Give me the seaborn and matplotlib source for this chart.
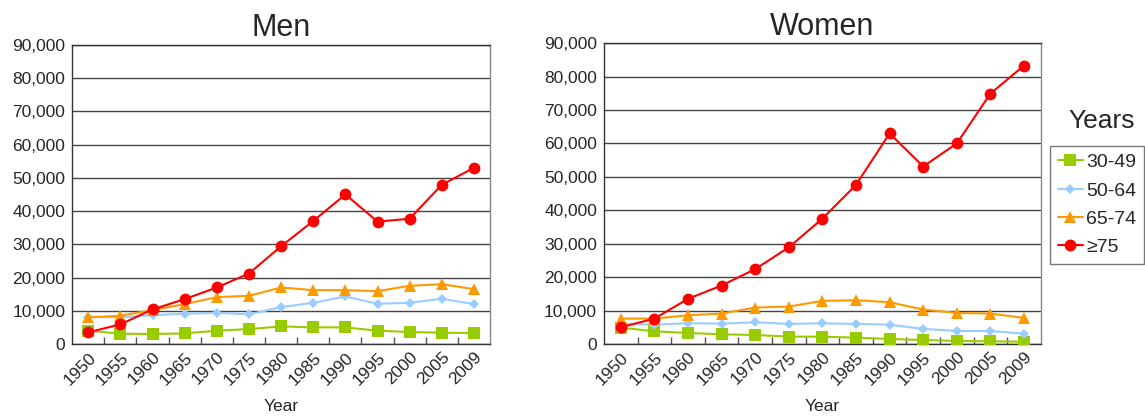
import numpy as np
import pandas as pd
import matplotlib
matplotlib.use("Agg")
import matplotlib.pyplot as plt
import seaborn as sns
from matplotlib.ticker import FuncFormatter, FixedLocator

years = ["1950", "1955", "1960", "1965", "1970", "1975", "1980", "1985", "1990", "1995", "2000", "2005", "2009"]
groups = ["30-49", "50-64", "65-74", "≥75"]

men_30_49 = [4000, 3100, 3000, 3200, 4000, 4500, 5300, 5000, 5000, 4000, 3600, 3400, 3300]
men_50_64 = [8200, 8000, 8700, 9100, 9400, 8900, 11100, 12400, 14300, 12100, 12400, 13600, 12000]
men_65_74 = [8000, 8500, 10200, 12000, 14100, 14500, 17000, 16200, 16200, 15900, 17500, 18000, 16500]
men_75 = [3500, 5900, 10400, 13500, 17000, 21200, 29400, 37000, 45000, 36800, 37700, 47900, 53000]

women_30_49 = [4900, 3800, 3300, 2900, 2700, 2200, 2200, 1900, 1500, 1200, 900, 800, 700]
women_50_64 = [6000, 5800, 6200, 6100, 6500, 6000, 6200, 6000, 5800, 4500, 3900, 3900, 3100]
women_65_74 = [7600, 7600, 8600, 9100, 10900, 11200, 12900, 13100, 12500, 10300, 9300, 9100, 7800]
women_75 = [5000, 7600, 13500, 17500, 22400, 28900, 37500, 47600, 63000, 53100, 60000, 74900, 83300]

colors = {"30-49": "#99cc00", "50-64": "#99ccff", "65-74": "#ff9900", "≥75": "#ff0000"}
markers = {"30-49": "s", "50-64": "D", "65-74": "^", "≥75": "o"}
msize = {"30-49": 8.5, "50-64": 5.5, "65-74": 8, "≥75": 8.5}


def long_df(series):
    rows = []
    for g, vals in zip(groups, series):
        for i, v in enumerate(vals):
            rows.append({"pos": i, "Year": years[i], "group": g, "value": v})
    return pd.DataFrame(rows)


men_df = long_df([men_30_49, men_50_64, men_65_74, men_75])
women_df = long_df([women_30_49, women_50_64, women_65_74, women_75])

sns.set_theme(style="white")
plt.rcParams["font.family"] = ["Liberation Sans", "DejaVu Sans"]

fig = plt.figure(figsize=(11.45, 4.19), dpi=100)
ax1 = fig.add_axes([0.063, 0.179, 0.365, 0.714])
ax2 = fig.add_axes([0.5275, 0.179, 0.3815, 0.718])

for ax, df, title in [(ax1, men_df, "Men"), (ax2, women_df, "Women")]:
    for g in groups:
        sub = df[df["group"] == g]
        sns.lineplot(data=sub, x="pos", y="value", ax=ax, color=colors[g],
                     marker=markers[g], markersize=msize[g], markeredgewidth=0,
                     linewidth=1.5, label=g, legend=False, zorder=3 + groups.index(g))
    ax.set_xlim(-0.5, 12.5)
    ax.set_ylim(0, 90000)
    ax.set_yticks(np.arange(0, 90001, 10000))
    ax.yaxis.set_major_formatter(FuncFormatter(lambda v, p: f"{int(v):,}"))
    ax.grid(axis="y", color="#444444", linewidth=1.0)
    ax.grid(axis="x", visible=False)
    ax.set_axisbelow(True)
    ax.set_xticks(range(len(years)))
    ax.set_xticklabels(years, rotation=45, ha="right", rotation_mode="anchor", fontsize=12.5)
    ax.tick_params(axis="x", which="major", length=0, pad=4)
    ax.xaxis.set_minor_locator(FixedLocator(np.arange(0.5, 12, 1)))
    ax.tick_params(axis="x", which="minor", direction="in", length=5, width=1, color="#555555", bottom=True)
    ax.tick_params(axis="y", labelsize=12.5, length=0, pad=5)
    ax.set_xlabel("Year", fontsize=12.5, labelpad=8)
    ax.set_ylabel("")
    ax.set_title(title, fontsize=22, pad=6)
    for s in ax.spines.values():
        s.set_color("#333333")
        s.set_linewidth(1.0)
    ax.spines["right"].set_color("#888888")

handles, labels = ax1.get_legend_handles_labels()
leg = fig.legend(handles, labels, loc="upper right", bbox_to_anchor=(0.999, 0.652),
                 frameon=True, fontsize=14, handlelength=1.3, handletextpad=0.15,
                 borderpad=0.4, labelspacing=0.55, fancybox=False, borderaxespad=0)
leg.get_frame().set_edgecolor("#555555")
leg.get_frame().set_linewidth(1.0)
fig.text(0.9625, 0.711, "Years", fontsize=19, ha="center", va="center")

fig.savefig("out.png", dpi=100)
